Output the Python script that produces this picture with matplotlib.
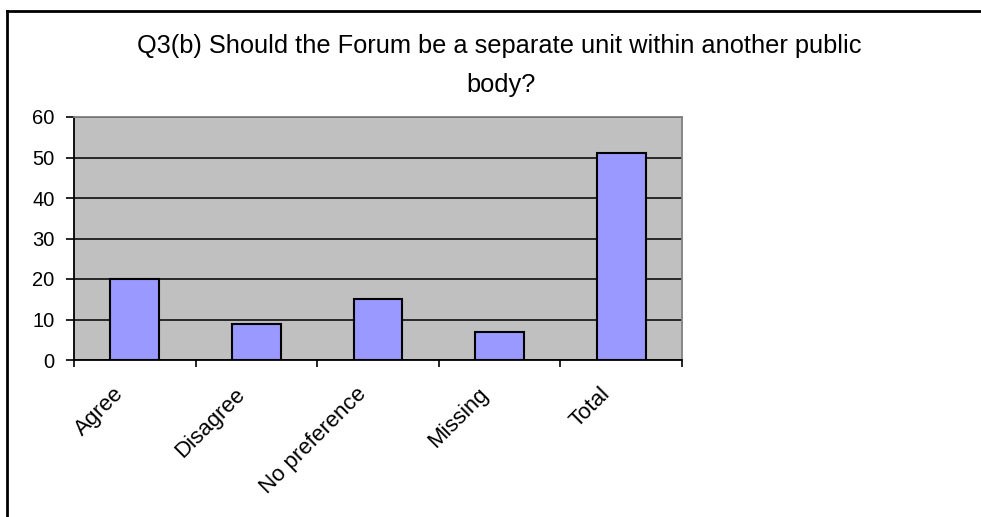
import matplotlib
matplotlib.use("Agg")
import matplotlib.pyplot as plt
from matplotlib.lines import Line2D
from matplotlib.transforms import ScaledTranslation

categories = ["Agree", "Disagree", "No preference", "Missing", "Total"]
counts = [20, 9, 15, 7, 51]
y_ticks = [0, 10, 20, 30, 40, 50, 60]

plt.rcParams["font.family"] = ["Liberation Sans", "DejaVu Sans"]

fig = plt.figure(figsize=(9.81, 5.17), dpi=100)
ax = fig.add_axes([74 / 981, 1 - 360 / 517, 608 / 981, 243 / 517])

ax.set_facecolor("#c0c0c0")
x = list(range(len(categories)))
ax.bar(x, counts, width=0.40, color="#9999ff", edgecolor="black", linewidth=1.5, zorder=3)

ax.set_xlim(-0.5, len(categories) - 0.5)
ax.set_ylim(0, 60)
ax.set_yticks(y_ticks)
ax.set_yticklabels([str(v) for v in y_ticks], fontsize=14.5)
ax.yaxis.grid(True, color="black", linewidth=1.1, zorder=1)
ax.set_axisbelow(True)

# category ticks sit between the bars
ax.set_xticks([i - 0.5 for i in range(len(categories) + 1)])
ax.set_xticklabels([])
ax.set_xticks(x, minor=True)
ax.set_xticklabels(categories, minor=True, rotation=45, ha="right",
                   rotation_mode="anchor", fontsize=16)
ax.tick_params(axis="x", which="minor", length=0, pad=17)
ax.tick_params(axis="x", which="major", direction="out", length=5, width=1.2)
ax.tick_params(axis="y", direction="out", length=6, width=1.2, pad=8)

# nudge the slanted labels to the left, like the original
shift = ScaledTranslation(-22 / 100, 0, fig.dpi_scale_trans)
for lbl in ax.get_xticklabels(minor=True):
    lbl.set_transform(lbl.get_transform() + shift)

for side in ["left", "bottom"]:
    ax.spines[side].set_color("black")
    ax.spines[side].set_linewidth(1.3)
for side in ["top", "right"]:
    ax.spines[side].set_color("#808080")
    ax.spines[side].set_linewidth(1.3)

# title, wrapped as in the original
fig.text(499 / 981, 1 - 53 / 517, "Q3(b) Should the Forum be a separate unit within another public",
         ha="center", va="baseline", fontsize=18.3)
fig.text(501 / 981, 1 - 92 / 517, "body?", ha="center", va="baseline", fontsize=18.3)

# chart border (left and top edges visible)
fig.add_artist(Line2D([7 / 981, 7 / 981], [0, 1 - 11 / 517], transform=fig.transFigure,
                      color="black", linewidth=2))
fig.add_artist(Line2D([7 / 981, 1], [1 - 11 / 517, 1 - 11 / 517], transform=fig.transFigure,
                      color="black", linewidth=2))

fig.savefig("out.png", dpi=100)
